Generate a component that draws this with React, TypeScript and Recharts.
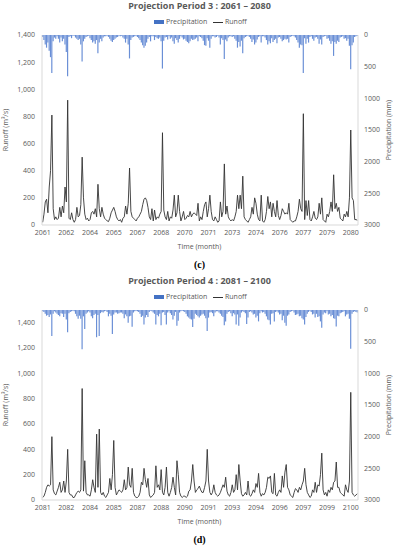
import React from 'react';
import { ComposedChart, Bar, Line, XAxis, YAxis } from 'recharts';

// monthly values, one line per year
const runoffP3 = [
  20, 80, 170, 190, 90, 280, 400, 810, 120, 40, 60, 40,
  50, 130, 60, 140, 90, 280, 170, 920, 50, 40, 90, 40,
  20, 40, 130, 60, 70, 150, 500, 200, 80, 40, 50, 30,
  40, 90, 100, 80, 120, 60, 300, 120, 60, 130, 80, 50,
  40, 30, 25, 50, 90, 110, 130, 100, 60, 40, 30, 40,
  20, 50, 60, 140, 80, 160, 420, 100, 60, 50, 40, 30,
  50, 60, 80, 100, 150, 190, 200, 180, 130, 60, 40, 120,
  30, 110, 40, 60, 50, 80, 100, 680, 110, 60, 40, 100,
  30, 60, 50, 110, 220, 60, 90, 220, 100, 30, 60, 100,
  40, 50, 70, 60, 100, 60, 80, 90, 80, 70, 160, 30,
  60, 40, 100, 150, 170, 60, 120, 220, 100, 40, 30, 60,
  40, 20, 30, 170, 60, 100, 450, 80, 140, 60, 40, 30,
  40, 30, 60, 100, 220, 120, 220, 120, 360, 60, 40, 30,
  20, 40, 60, 130, 80, 200, 160, 80, 40, 30, 220, 30,
  20, 40, 100, 210, 120, 170, 60, 160, 100, 60, 180, 70,
  40, 70, 120, 100, 80, 90, 80, 160, 40, 30, 20, 30,
  30, 60, 100, 190, 120, 100, 820, 40, 180, 70, 180, 40,
  30, 60, 100, 50, 40, 60, 160, 80, 200, 40, 30, 20,
  80, 60, 100, 170, 100, 370, 120, 160, 100, 130, 50, 40,
  30, 80, 60, 100, 60, 200, 700, 200, 180, 40, 40, 35,
];

const precipP3 = [
  30, 80, 150, 200, 120, 250, 350, 600, 100, 40, 60, 20,
  60, 120, 40, 100, 60, 150, 270, 650, 30, 20, 50, 10,
  10, 40, 60, 80, 60, 150, 420, 100, 60, 30, 20, 10,
  50, 80, 120, 100, 140, 80, 290, 120, 60, 100, 40, 20,
  20, 10, 30, 60, 90, 110, 80, 60, 40, 30, 10, 20,
  10, 40, 60, 120, 60, 150, 370, 80, 40, 30, 20, 10,
  30, 50, 80, 120, 160, 200, 170, 120, 60, 30, 100, 20,
  20, 80, 30, 50, 60, 40, 100, 530, 90, 40, 30, 70,
  20, 60, 40, 100, 140, 50, 80, 120, 60, 20, 40, 70,
  60, 90, 110, 130, 100, 60, 80, 70, 60, 40, 100, 20,
  30, 50, 90, 160, 170, 50, 90, 200, 60, 20, 20, 40,
  30, 10, 40, 150, 50, 80, 380, 70, 100, 40, 20, 20,
  30, 20, 60, 90, 200, 110, 180, 90, 290, 50, 30, 20,
  10, 30, 60, 110, 70, 150, 120, 70, 30, 20, 120, 20,
  20, 40, 80, 150, 100, 130, 50, 110, 80, 60, 130, 40,
  30, 60, 100, 80, 60, 70, 60, 120, 30, 20, 10, 20,
  40, 80, 120, 200, 150, 160, 600, 50, 140, 60, 120, 30,
  20, 60, 90, 40, 30, 60, 140, 70, 150, 30, 20, 10,
  60, 50, 90, 140, 100, 330, 110, 140, 90, 110, 40, 30,
  20, 60, 50, 90, 60, 170, 540, 160, 120, 30, 20, 10,
];

const runoffP4 = [
  20, 30, 60, 100, 120, 110, 120, 500, 80, 50, 40, 70,
  100, 140, 60, 80, 150, 60, 150, 400, 60, 40, 40, 20,
  20, 40, 60, 70, 60, 80, 880, 70, 310, 60, 40, 40,
  30, 80, 160, 100, 60, 520, 100, 560, 60, 40, 60, 30,
  20, 40, 60, 170, 80, 200, 470, 100, 40, 60, 80, 70,
  60, 80, 160, 80, 100, 260, 120, 100, 250, 60, 30, 20,
  20, 30, 60, 140, 120, 250, 160, 100, 170, 40, 20, 30,
  40, 60, 270, 100, 120, 80, 240, 60, 40, 100, 260, 60,
  30, 60, 100, 180, 100, 40, 310, 200, 60, 30, 20, 30,
  30, 20, 30, 70, 80, 150, 280, 150, 60, 80, 90, 110,
  80, 60, 60, 100, 150, 400, 150, 60, 40, 60, 120, 60,
  40, 30, 40, 60, 90, 120, 100, 180, 70, 40, 30, 60,
  120, 60, 80, 200, 80, 280, 150, 50, 30, 40, 60, 40,
  150, 40, 30, 50, 80, 60, 130, 100, 210, 60, 30, 50,
  40, 60, 100, 180, 170, 190, 60, 50, 210, 40, 30, 60,
  80, 60, 190, 100, 220, 280, 100, 80, 40, 30, 20, 60,
  90, 80, 60, 100, 80, 120, 150, 250, 120, 60, 40, 20,
  30, 80, 60, 140, 60, 120, 110, 200, 370, 80, 40, 60,
  30, 80, 60, 100, 80, 140, 150, 300, 100, 100, 60, 50,
  40, 30, 120, 80, 60, 150, 850, 60, 40, 30, 40, 50,
];

const precipP4 = [
  20, 30, 60, 90, 80, 110, 70, 410, 60, 20, 40, 60,
  80, 100, 50, 60, 110, 60, 150, 350, 50, 30, 20, 10,
  20, 60, 100, 140, 90, 140, 620, 100, 300, 60, 40, 20,
  40, 100, 130, 80, 60, 430, 80, 410, 50, 30, 40, 20,
  10, 30, 100, 60, 90, 380, 70, 40, 40, 60, 50, 40,
  40, 60, 130, 70, 100, 200, 100, 90, 265, 40, 20, 10,
  20, 30, 60, 110, 90, 230, 120, 80, 110, 30, 10, 20,
  40, 60, 230, 80, 100, 60, 240, 40, 30, 80, 230, 40,
  20, 50, 80, 150, 90, 30, 250, 170, 40, 20, 10, 20,
  30, 60, 100, 120, 140, 150, 270, 140, 60, 80, 100, 120,
  90, 70, 60, 90, 130, 330, 120, 40, 30, 50, 100, 40,
  20, 20, 40, 60, 90, 110, 240, 180, 60, 30, 20, 50,
  100, 50, 70, 230, 70, 250, 120, 40, 20, 30, 50, 220,
  120, 30, 20, 40, 70, 60, 120, 90, 180, 50, 20, 40,
  30, 60, 100, 150, 160, 230, 60, 50, 180, 30, 20, 40,
  70, 60, 160, 90, 200, 250, 90, 70, 30, 20, 10, 40,
  80, 70, 60, 100, 90, 130, 150, 230, 110, 60, 30, 10,
  30, 70, 60, 120, 60, 110, 100, 180, 280, 70, 40, 50,
  20, 70, 60, 100, 80, 130, 140, 260, 90, 100, 50, 40,
  30, 20, 100, 70, 60, 140, 610, 60, 30, 20, 30, 40,
];

const runoffTicks = [0, 200, 400, 600, 800, 1000, 1200, 1400];
const precipTicks = [0, 500, 1000, 1500, 2000, 2500, 3000];

const FONT = '"Open Sans", "Liberation Sans", sans-serif';
const GREY = '#595959';
const AXIS = '#d9d9d9';

function buildRows(firstYear: number, runoff: number[], precip: number[]) {
  return runoff.map((r, i) => ({
    month: `${firstYear + Math.floor(i / 12)}-${(i % 12) + 1}`,
    runoff: r,
    precip: precip[i],
  }));
}

function Panel({ title, caption, firstYear, runoff, precip, runoffMax, top }: any) {
  const rows = buildRows(firstYear, runoff, precip);
  const text = (t: number) => ({ position: 'absolute' as const, top: t, lineHeight: '12px', height: 12 });
  return (
    <div style={{ position: 'absolute', left: 0, top, width: 399, height: 275, fontFamily: FONT, color: GREY }}>
      <div style={{ ...text(0), left: 0, width: 399, textAlign: 'center', fontWeight: 700, fontSize: 9 }}>{title}</div>
      <div style={{ ...text(16), left: 0, width: 399, fontSize: 7 }}>
        <span style={{ position: 'absolute', left: 154, top: 4, width: 10, height: 4, background: '#4472C4' }} />
        <span style={{ position: 'absolute', left: 166, top: 0 }}>Precipitation</span>
        <span style={{ position: 'absolute', left: 213, top: 6, width: 10, height: 1, background: '#333' }} />
        <span style={{ position: 'absolute', left: 225, top: 0 }}>Runoff</span>
      </div>
      <ComposedChart
        width={399}
        height={250}
        data={rows}
        margin={{ top: 35, right: 0, bottom: 13, left: 0 }}
        barCategoryGap={0}
        style={{ fontFamily: FONT }}
      >
        <XAxis
          dataKey="month"
          interval={17}
          height={12}
          tickLine={false}
          tickSize={3}
          tickMargin={2}
          stroke={AXIS}
          tick={{ fontSize: 7, fill: GREY }}
          tickFormatter={(v: string) => v.slice(0, 4)}
        />
        <YAxis
          yAxisId="left"
          width={42}
          domain={[0, runoffMax]}
          ticks={runoffTicks}
          tickLine={false}
          tickSize={3}
          tickMargin={4}
          stroke={AXIS}
          tick={{ fontSize: 7, fill: GREY }}
          tickFormatter={(v: number) => v.toLocaleString('en-US')}
        />
        <YAxis
          yAxisId="right"
          orientation="right"
          width={41}
          reversed
          domain={[0, 3000]}
          ticks={precipTicks}
          tickLine={false}
          tickSize={3}
          tickMargin={3}
          stroke={AXIS}
          tick={{ fontSize: 7, fill: GREY, textAnchor: 'start' }}
        />
        <Bar yAxisId="right" dataKey="precip" fill="#6a8fd6" barSize={2} isAnimationActive={false} />
        <Line
          yAxisId="left"
          type="linear"
          dataKey="runoff"
          stroke="#333333"
          strokeWidth={0.9}
          dot={false}
          isAnimationActive={false}
        />
      </ComposedChart>
      <div style={{ ...text(241), left: 0, width: 399, textAlign: 'center', fontSize: 7 }}>Time (month)</div>
      <div style={{ position: 'absolute', left: 6, top: 130, width: 0, height: 0 }}>
        <div style={{ position: 'absolute', left: -60, top: -6, width: 120, lineHeight: '12px', textAlign: 'center', fontSize: 7, transform: 'rotate(-90deg)' }}>
          Runoff (m³/s)
        </div>
      </div>
      <div style={{ position: 'absolute', left: 389, top: 130, width: 0, height: 0 }}>
        <div style={{ position: 'absolute', left: -60, top: -6, width: 120, lineHeight: '12px', textAlign: 'center', fontSize: 7, transform: 'rotate(-90deg)' }}>
          Precipitation (mm)
        </div>
      </div>
      <div style={{ ...text(259), left: 0, width: 399, textAlign: 'center', fontSize: 10, fontWeight: 700, color: '#000', fontFamily: '"Liberation Serif", serif' }}>
        {caption}
      </div>
    </div>
  );
}

export default function App() {
  return (
    <div style={{ position: 'absolute', left: 0, top: 0, width: 399, height: 550, background: '#fff', overflow: 'hidden' }}>
      <Panel
        title="Projection Period 3 : 2061 – 2080"
        caption="(c)"
        firstYear={2061}
        runoff={runoffP3}
        precip={precipP3}
        runoffMax={1400}
        top={0}
      />
      <Panel
        title="Projection Period 4 : 2081 – 2100"
        caption="(d)"
        firstYear={2081}
        runoff={runoffP4}
        precip={precipP4}
        runoffMax={1500}
        top={275}
      />
    </div>
  );
}
